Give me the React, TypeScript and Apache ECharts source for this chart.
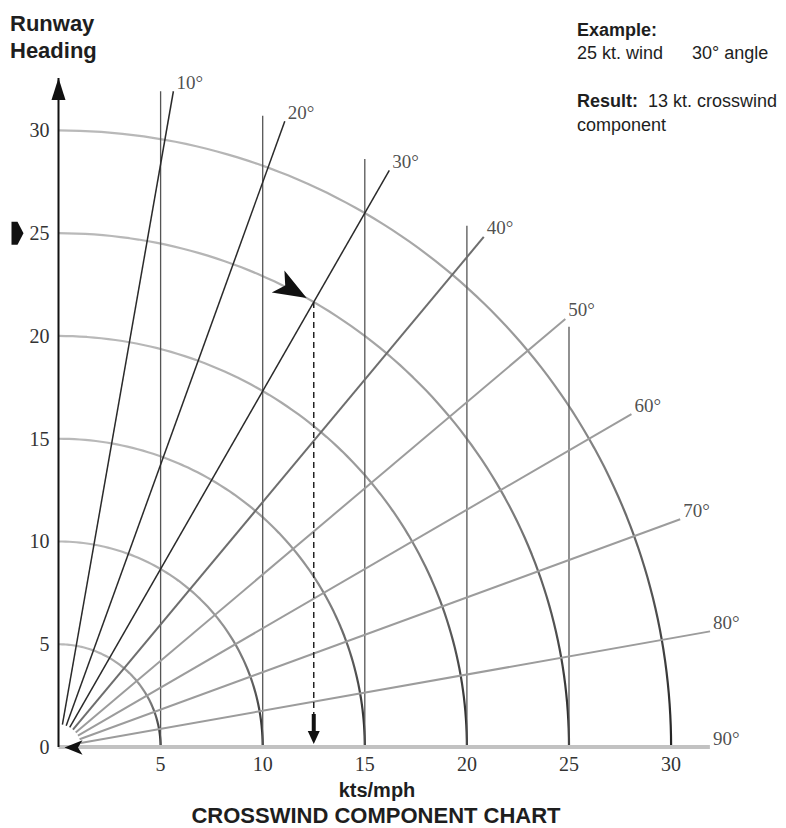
import { useEffect, useRef } from 'react';
import * as echarts from 'echarts';

// ---- data ----
const WIND_SPEEDS = [5, 10, 15, 20, 25, 30]; // concentric arcs (kts)
const WIND_ANGLES = [10, 20, 30, 40, 50, 60, 70, 80, 90]; // degrees off runway heading
const ANGLE_LABELS = ['10°', '20°', '30°', '40°', '50°', '60°', '70°', '80°', '90°'];
const CROSSWIND_LINES = [5, 10, 15, 20, 25]; // vertical crosswind component lines
const X_TICK_LABELS = [5, 10, 15, 20, 25, 30];
const Y_TICK_LABELS = [0, 5, 10, 15, 20, 25, 30];
const EXAMPLE_WIND = 25;
const EXAMPLE_ANGLE = 30;
const RADIAL_LENGTH = 32.4;
const AXIS_90_LENGTH = 31.9;
const CROSSWIND_LINE_RADIUS = 32.3;
const RADIAL_START = 1.1;
const Y_AXIS_LENGTH = 32.55;

const rad = (d: number) => (d * Math.PI) / 180;
const polar = (r: number, a: number): [number, number] => [r * Math.sin(rad(a)), r * Math.cos(rad(a))];

export default function App() {
  const ref = useRef<HTMLDivElement>(null);

  useEffect(() => {
    document.body.style.margin = '0';
    if (!ref.current) return;
    const chart = echarts.init(ref.current, undefined, { renderer: 'svg' });

    const series: any[] = [];

    // arcs
    WIND_SPEEDS.forEach((r) => {
      const pts: [number, number][] = [];
      for (let a = 0; a <= 90; a += 1) pts.push(polar(r, a));
      series.push({
        type: 'line',
        data: pts,
        showSymbol: false,
        silent: true,
        z: 2,
        lineStyle: {
          width: 2.2,
          color: new echarts.graphic.LinearGradient(0, 0, 0, 1, [
            { offset: 0, color: '#b9b9b9' },
            { offset: 0.45, color: '#8e8e8e' },
            { offset: 1, color: '#222222' },
          ]),
        },
      });
    });

    // vertical crosswind lines
    CROSSWIND_LINES.forEach((x) => {
      series.push({
        type: 'line',
        data: [
          [x, 0],
          [x, Math.sqrt(CROSSWIND_LINE_RADIUS * CROSSWIND_LINE_RADIUS - x * x)],
        ],
        showSymbol: false,
        silent: true,
        z: 3,
        lineStyle: { width: 1.3, color: '#555' },
      });
    });

    // radial angle lines
    WIND_ANGLES.forEach((a) => {
      if (a === 90) return;
      const color = a <= 30 ? '#2a2a2a' : a === 40 ? '#6e6e6e' : '#9c9c9c';
      series.push({
        type: 'line',
        data: [polar(RADIAL_START, a), polar(RADIAL_LENGTH, a)],
        showSymbol: false,
        silent: true,
        z: 4,
        lineStyle: { width: a <= 30 ? 1.5 : 2, color },
      });
    });

    // 90 degree line (x axis)
    series.push({
      type: 'line',
      data: [
        [0, 0],
        [AXIS_90_LENGTH, 0],
      ],
      showSymbol: false,
      silent: true,
      z: 5,
      lineStyle: { width: 4, color: '#c2c2c2' },
    });

    // runway heading axis
    series.push({
      type: 'line',
      data: [
        [0, 0],
        [0, Y_AXIS_LENGTH],
      ],
      showSymbol: false,
      silent: true,
      z: 6,
      lineStyle: { width: 2, color: '#111' },
    });

    // example dashed line
    const ex = polar(EXAMPLE_WIND, EXAMPLE_ANGLE);
    series.push({
      type: 'line',
      data: [ex, [ex[0], 1.4]],
      showSymbol: false,
      silent: true,
      z: 7,
      lineStyle: { width: 1.5, color: '#222', type: [6, 4] },
    });

    // markers
    series.push({
      type: 'scatter',
      silent: true,
      clip: false,
      z: 8,
      itemStyle: { color: '#111', opacity: 1 },
      data: [
        {
          value: [0, Y_AXIS_LENGTH],
          symbol: 'triangle',
          symbolSize: [14, 22],
          symbolOffset: [0, 11],
        },
        {
          value: ex,
          symbol: 'arrow',
          symbolSize: [19, 33],
          symbolRotate: -120,
          symbolOffset: [-7.1, -4.1],
        },
        {
          value: [ex[0], 0],
          symbol: 'path://M4,0L8,0L8,17L12,17L6,30L0,17L4,17Z',
          symbolSize: [12, 30],
          symbolOffset: [0, -18],
        },
        {
          value: [0, 0],
          symbol: 'arrow',
          symbolSize: [11, 18],
          symbolRotate: 90,
          symbolOffset: [6, 0.5],
        },
        {
          value: [0, EXAMPLE_WIND],
          symbol: 'path://M0,0L6,0L12,12L6,24L0,24Z',
          symbolSize: [12, 23],
          symbolOffset: [-41, 0],
        },
      ],
    });

    // angle labels
    series.push({
      type: 'scatter',
      silent: true,
      clip: false,
      z: 9,
      symbolSize: 0,
      data: WIND_ANGLES.map((a, i) => ({
        value: polar(a === 90 ? AXIS_90_LENGTH : RADIAL_LENGTH, a),
        name: ANGLE_LABELS[i],
      })),
      label: {
        show: true,
        position: 'right',
        distance: 3,
        offset: [0, -9],
        formatter: '{b}',
        fontFamily: '"Liberation Serif", serif',
        fontSize: 19,
        color: '#222',
      },
    });

    const serif = '"Liberation Serif", serif';
    const sans = '"Liberation Sans", Arial, sans-serif';
    const t = (text: string, x: number, y: number, font: string, align = 'left') => ({
      type: 'text',
      x,
      y,
      style: {
        text,
        font,
        fill: '#1e1e1e',
        align,
        textAlign: align,
        verticalAlign: 'middle',
        textVerticalAlign: 'middle',
      },
    });

    chart.setOption({
      animation: false,
      backgroundColor: '#ffffff',
      grid: { left: 58.5, right: 12.8, top: 27.7, bottom: 81 },
      xAxis: {
        type: 'value',
        min: 0,
        max: 35,
        interval: 5,
        axisLine: { show: false },
        axisTick: { show: false },
        splitLine: { show: false },
        axisLabel: {
          margin: 7,
          fontFamily: serif,
          fontSize: 20,
          color: '#333',
          formatter: (v: number) => (X_TICK_LABELS.includes(v) ? String(v) : ''),
        },
      },
      yAxis: {
        type: 'value',
        min: 0,
        max: 35,
        interval: 5,
        axisLine: { show: false },
        axisTick: { show: false },
        splitLine: { show: false },
        axisLabel: {
          margin: 9,
          fontFamily: serif,
          fontSize: 20,
          color: '#333',
          padding: [0, 0, 8, 0],
          formatter: (v: number) => (Y_TICK_LABELS.includes(v) ? String(v) : ''),
        },
      },
      graphic: [
        t('Runway', 10, 23, `bold 22px ${sans}`),
        t('Heading', 10, 50, `bold 22px ${sans}`),
        t('Example:', 577, 30, `bold 18px ${sans}`),
        t('25 kt. wind', 577, 53, `18px ${sans}`),
        t('30° angle', 692, 53, `18px ${sans}`),
        t('Result:', 577, 101, `bold 18px ${sans}`),
        t('13 kt. crosswind', 648, 101, `18px ${sans}`),
        t('component', 577, 125, `18px ${sans}`),
        t('kts/mph', 377, 790, `bold 20px ${sans}`, 'center'),
        t('CROSSWIND COMPONENT CHART', 376, 815, `bold 22px ${sans}`, 'center'),
      ],
      series,
    });

    return () => chart.dispose();
  }, []);

  return <div ref={ref} style={{ width: 786, height: 828 }} />;
}
